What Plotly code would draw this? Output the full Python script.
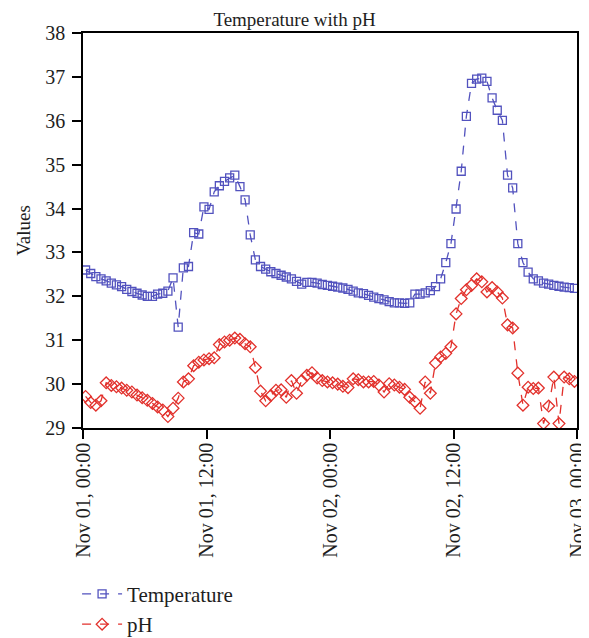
import plotly.graph_objects as go
import pandas as pd

# sampling times (every 30 minutes)
times = pd.date_range("2020-11-01 00:15", periods=96, freq="30min")

temperature = [
    32.60, 32.52, 32.45, 32.40, 32.35, 32.30, 32.26, 32.22, 32.16, 32.11,
    32.07, 32.03, 32.00, 32.00, 32.05, 32.07, 32.12, 32.42, 31.30, 32.65,
    32.68, 33.45, 33.42, 34.04, 33.98, 34.38, 34.52, 34.62, 34.70, 34.76,
    34.50, 34.20, 33.40, 32.83, 32.68, 32.62, 32.56, 32.52, 32.48, 32.44,
    32.40, 32.34, 32.28, 32.32, 32.32, 32.30, 32.27, 32.25, 32.23, 32.21,
    32.19, 32.16, 32.12, 32.08, 32.06, 32.02, 31.98, 31.95, 31.92, 31.88,
    31.85, 31.85, 31.84, 31.85, 32.05, 32.05, 32.08, 32.13, 32.22, 32.40,
    32.77, 33.20, 33.99, 34.85, 36.10, 36.85, 36.95, 36.97, 36.90, 36.52,
    36.24, 36.01, 34.76, 34.47, 33.20, 32.77, 32.55, 32.40, 32.35, 32.30,
    32.28, 32.25, 32.23, 32.21, 32.20, 32.18,
]

ph = [
    29.72, 29.58, 29.52, 29.62, 30.03, 29.97, 29.94, 29.91, 29.86, 29.82,
    29.75, 29.69, 29.63, 29.56, 29.48, 29.41, 29.26, 29.45, 29.68, 30.05,
    30.12, 30.42, 30.50, 30.55, 30.58, 30.60, 30.90, 30.96, 31.00, 31.05,
    31.02, 30.92, 30.85, 30.38, 29.84, 29.62, 29.74, 29.86, 29.87, 29.70,
    30.08, 29.79, 30.08, 30.20, 30.26, 30.14, 30.08, 30.05, 30.03, 30.00,
    29.95, 29.92, 30.12, 30.10, 30.05, 30.05, 30.06, 29.98, 29.82, 30.01,
    29.98, 29.93, 29.88, 29.70, 29.60, 29.45, 30.05, 29.79, 30.48, 30.62,
    30.70, 30.85, 31.60, 31.95, 32.15, 32.25, 32.40, 32.33, 32.10, 32.20,
    32.10, 31.96, 31.35, 31.28, 30.25, 29.52, 29.93, 29.90, 29.91, 29.10,
    29.50, 30.16, 29.10, 30.16, 30.12, 30.06,
]

series_names = ["Temperature", "pH"]
title_text = "Temperature with pH"
y_title = "Values"

FONT = "Liberation Serif, Times New Roman, serif"
BLUE = "#5252be"
RED = "#e2312c"
TXT = "#1e1e1e"

fig = go.Figure()
fig.add_trace(go.Scatter(
    x=times, y=temperature, name=series_names[0], mode="lines+markers",
    line=dict(color=BLUE, width=1.3, dash="dash"),
    marker=dict(symbol="square-open", size=8, color=BLUE, line=dict(width=1.3)),
))
fig.add_trace(go.Scatter(
    x=times, y=ph, name=series_names[1], mode="lines+markers",
    line=dict(color=RED, width=1.3, dash="dash"),
    marker=dict(symbol="diamond-open", size=9, color=RED, line=dict(width=1.3)),
))

# page body has an 8px margin; the figure is sized so it ends at the window edge
fig.update_layout(
    width=581, height=630,
    margin=dict(l=75, r=12, t=25, b=210, autoexpand=False),
    paper_bgcolor="white", plot_bgcolor="white",
    font=dict(family=FONT, color=TXT, size=19),
    title=dict(text=title_text, x=(294.5 - 8) / 581, xanchor="center", xref="container",
               y=0.992, yanchor="top", yref="container",
               font=dict(family=FONT, size=19, color=TXT)),
    showlegend=True,
    legend=dict(orientation="v", x=-0.012, xanchor="left",
                y=0.102, yanchor="top", yref="container",
                font=dict(family=FONT, size=21, color=TXT),
                tracegroupgap=0, itemwidth=40, bgcolor="rgba(0,0,0,0)"),
)

fig.update_xaxes(
    range=["2020-11-01 00:00", "2020-11-03 00:00"],
    tickmode="linear", tick0="2020-11-01 00:00", dtick=12 * 3600 * 1000,
    tickformat="%b %d, %H:%M", tickangle=-90, automargin=False,
    showgrid=False, zeroline=False,
    showline=True, linecolor="black", linewidth=1.5, mirror=True,
    ticks="outside", ticklen=9, tickwidth=1.5, tickcolor="black",
    ticklabelstandoff=-4,
    tickfont=dict(family=FONT, size=20, color=TXT),
)
fig.update_yaxes(
    range=[29, 38], dtick=1, tick0=29, automargin=False,
    showgrid=False, zeroline=False,
    showline=True, linecolor="black", linewidth=1.5, mirror=True,
    ticks="outside", ticklen=9, tickwidth=1.5, tickcolor="black",
    ticklabelstandoff=3,
    tickfont=dict(family=FONT, size=20, color=TXT),
    title=dict(text=y_title, font=dict(family=FONT, size=19, color=TXT), standoff=10),
)

fig.write_html("out.html")
